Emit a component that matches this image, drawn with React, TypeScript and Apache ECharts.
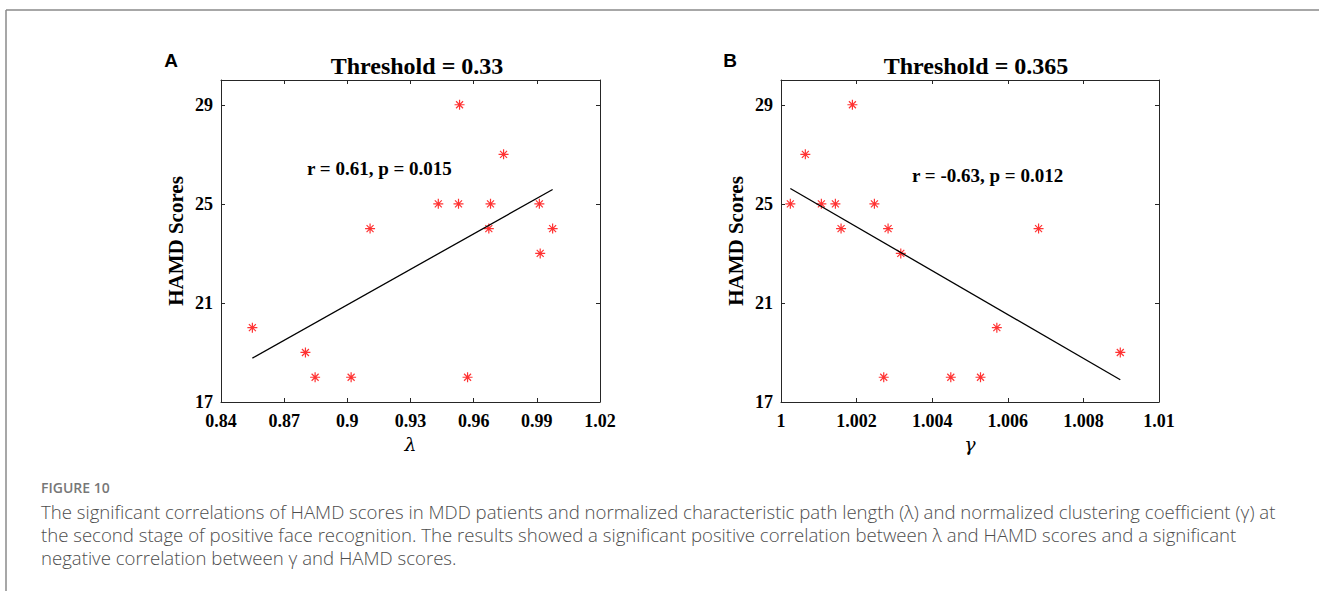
import React, { useEffect, useRef } from "react";
import * as echarts from "echarts";

// Panel A: lambda vs HAMD
const lambdaValues = [0.8549, 0.8801, 0.8847, 0.9018, 0.9108, 0.9432, 0.9528, 0.9533, 0.9571, 0.9672, 0.968, 0.9742, 0.9912, 0.9916, 0.9975];
const hamdA = [20, 19, 18, 18, 24, 25, 25, 29, 18, 24, 25, 27, 25, 23, 24];
const fitA = [[0.8549, 18.77], [0.9975, 25.58]];

// Panel B: gamma vs HAMD
const gammaValues = [1.000247, 1.000644, 1.001068, 1.001439, 1.001589, 1.001889, 1.002471, 1.002718, 1.002833, 1.003169, 1.004492, 1.005278, 1.00571, 1.006814, 1.008976];
const hamdB = [25, 27, 25, 25, 24, 29, 25, 18, 24, 23, 18, 18, 20, 24, 19];
const fitB = [[1.000247, 25.62], [1.008976, 17.9]];

const titles = ["Threshold = 0.33", "Threshold = 0.365"];
const statsText = ["r = 0.61, p = 0.015", "r = -0.63, p = 0.012"];
const xNames = ["λ", "γ"];
const yName = "HAMD Scores";
const panelLetters = ["A", "B"];
const figureLabel = "FIGURE 10";
const captionLines = [
  "The significant correlations of HAMD scores in MDD patients and normalized characteristic path length (λ) and normalized clustering coefficient (γ) at",
  "the second stage of positive face recognition. The results showed a significant positive correlation between λ and HAMD scores and a significant",
  "negative correlation between γ and HAMD scores.",
];

const SERIF = "'Times New Roman', 'Liberation Serif', serif";
const SANS = "'Open Sans', 'Noto Sans', sans-serif";
const AX = "#262626";
const STAR = "path://M5,0L5,10M0,5L10,5M1.5,1.5L8.5,8.5M1.5,8.5L8.5,1.5";

export default function App() {
  const ref = useRef<HTMLDivElement>(null);
  useEffect(() => {
    document.body.style.margin = "0";
    const chart = echarts.init(ref.current!, null, { renderer: "svg" });
    const grids = [
      { left: 221, top: 80, width: 379, height: 322 },
      { left: 781, top: 80, width: 378, height: 322 },
    ];
    const xRanges = [
      { min: 0.84, max: 1.02, interval: 0.03 },
      { min: 1, max: 1.01, interval: 0.002 },
    ];
    const labelStyle = { fontFamily: SERIF, fontWeight: "bold" as const, fontSize: 18, color: "#000" };
    const xAxis: any[] = [];
    const yAxis: any[] = [];
    for (let g = 0; g < 2; g++) {
      xAxis.push({
        type: "value", gridIndex: g, position: "bottom", ...xRanges[g],
        name: xNames[g], nameLocation: "middle", nameGap: 32,
        nameTextStyle: { fontFamily: "'DejaVu Serif', 'Liberation Serif', serif", fontStyle: "italic", fontSize: 19, color: "#000" },
        axisLine: { show: true, lineStyle: { color: AX, width: 1 } },
        axisTick: { show: true, inside: true, length: 4, lineStyle: { color: AX } },
        axisLabel: { ...labelStyle, margin: 10, formatter: (v: number) => String(parseFloat(v.toFixed(4))) },
        splitLine: { show: false },
      });
      xAxis.push({
        type: "value", gridIndex: g, position: "top", ...xRanges[g],
        axisLine: { show: true, lineStyle: { color: AX, width: 1 } },
        axisTick: { show: true, inside: true, length: 4, lineStyle: { color: AX } },
        axisLabel: { show: false }, splitLine: { show: false },
      });
      yAxis.push({
        type: "value", gridIndex: g, position: "left", min: 17, max: 30, interval: 4,
        name: yName, nameLocation: "middle", nameGap: 35,
        nameTextStyle: { fontFamily: SERIF, fontWeight: "bold", fontSize: 21, color: "#000" },
        axisLine: { show: true, lineStyle: { color: AX, width: 1 } },
        axisTick: { show: true, inside: true, length: 4, lineStyle: { color: AX } },
        axisLabel: { ...labelStyle, margin: 8, formatter: (v: number) => (v === 30 ? "" : String(v)) },
        splitLine: { show: false },
      });
      yAxis.push({
        type: "value", gridIndex: g, position: "right", min: 17, max: 30, interval: 4,
        axisLine: { show: true, lineStyle: { color: AX, width: 1 } },
        axisTick: { show: true, inside: true, length: 4, lineStyle: { color: AX } },
        axisLabel: { show: false }, splitLine: { show: false },
      });
    }
    const scatterData = [
      lambdaValues.map((x, i) => [x, hamdA[i]]),
      gammaValues.map((x, i) => [x, hamdB[i]]),
    ];
    const fits = [fitA, fitB];
    const series: any[] = [];
    for (let g = 0; g < 2; g++) {
      series.push({
        type: "line", xAxisIndex: g * 2, yAxisIndex: g * 2, data: fits[g],
        showSymbol: false, symbol: "none", lineStyle: { color: "#000", width: 1.3 }, silent: true,
      });
      series.push({
        type: "scatter", xAxisIndex: g * 2, yAxisIndex: g * 2, data: scatterData[g],
        symbol: STAR, symbolSize: 10,
        itemStyle: { color: "rgba(0,0,0,0)", borderColor: "#ff0000", borderWidth: 1.2 },
      });
    }
    chart.setOption({
      animation: false,
      backgroundColor: "#fff",
      grid: grids,
      xAxis, yAxis, series,
      title: [
        { text: titles[0], left: 412, top: 49, textAlign: "center", textStyle: { fontFamily: SERIF, fontWeight: "bold", fontSize: 24, color: "#000" } },
        { text: titles[1], left: 971, top: 49, textAlign: "center", textStyle: { fontFamily: SERIF, fontWeight: "bold", fontSize: 24, color: "#000" } },
      ],
      graphic: [
        { type: "line", shape: { x1: 6, y1: 10, x2: 1319, y2: 10 }, style: { stroke: "#8a8a8a", lineWidth: 1.5 } },
        { type: "line", shape: { x1: 6, y1: 10, x2: 6, y2: 591 }, style: { stroke: "#8a8a8a", lineWidth: 1.5 } },
        { type: "text", x: 171, y: 60, style: { text: panelLetters[0], fontFamily: "'Liberation Sans', Arial, sans-serif", fontWeight: "bold", fontSize: 19, fill: "#000", align: "center", verticalAlign: "middle" } },
        { type: "text", x: 730, y: 60, style: { text: panelLetters[1], fontFamily: "'Liberation Sans', Arial, sans-serif", fontWeight: "bold", fontSize: 19, fill: "#000", align: "center", verticalAlign: "middle" } },
        { type: "text", x: 307, y: 168, style: { text: statsText[0], fontFamily: SERIF, fontWeight: "bold", fontSize: 19, fill: "#000", align: "left", verticalAlign: "middle" } },
        { type: "text", x: 912, y: 175, style: { text: statsText[1], fontFamily: SERIF, fontWeight: "bold", fontSize: 19, fill: "#000", align: "left", verticalAlign: "middle" } },
        { type: "text", x: 41, y: 487, style: { text: figureLabel, fontFamily: SANS, fontWeight: 600, fontSize: 14, fill: "#777", align: "left", verticalAlign: "middle" } },
        ...captionLines.map((t, i) => ({
          type: "text", x: 41, y: 511 + i * 23,
          style: { text: t, fontFamily: SANS, fontWeight: 300, fontSize: 18.6, fill: "#4d4d4d", align: "left", verticalAlign: "middle" },
        })),
      ],
    });
    return () => chart.dispose();
  }, []);
  return <div ref={ref} style={{ width: 1319, height: 591 }} />;
}
